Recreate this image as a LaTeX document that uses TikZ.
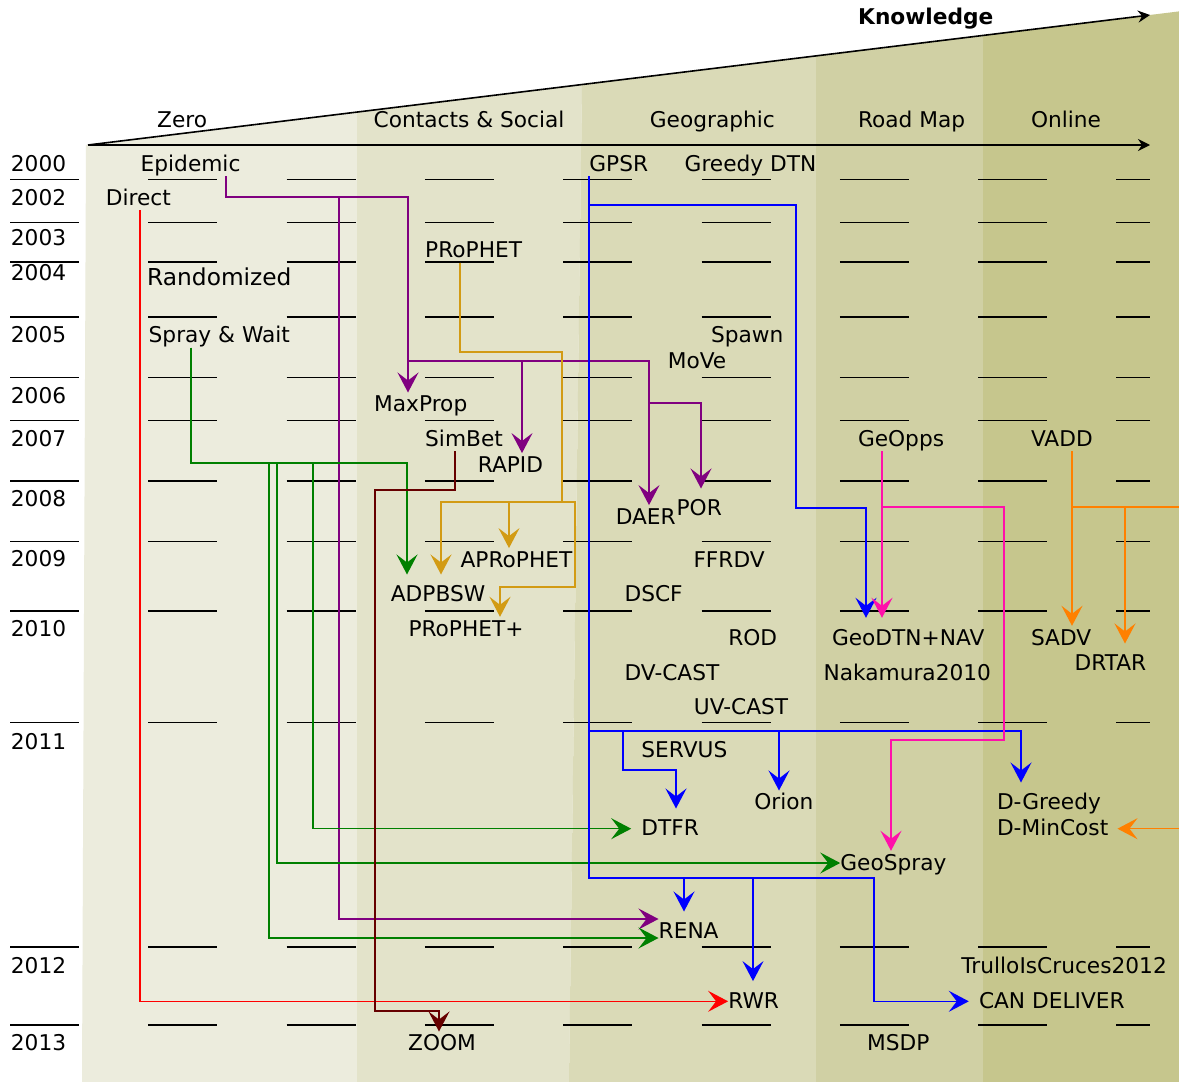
\documentclass[tikz,border=0pt]{standalone}
\usepackage{fontspec}
\setmainfont{DejaVu Sans}
\usepackage{xcolor}
\usepackage{tikz}
\usetikzlibrary{arrows.meta}

\definecolor{zonea}{RGB}{236,236,221}
\definecolor{zoneb}{RGB}{227,227,202}
\definecolor{zonec}{RGB}{218,218,183}
\definecolor{zoned}{RGB}{208,208,164}
\definecolor{zonee}{RGB}{198,198,141}
\definecolor{purp}{RGB}{128,0,128}
\definecolor{gold}{RGB}{210,155,20}
\definecolor{grn}{RGB}{0,128,0}
\definecolor{rd}{RGB}{255,0,0}
\definecolor{maroon}{RGB}{102,0,0}
\definecolor{blu}{RGB}{0,0,255}
\definecolor{pnk}{RGB}{255,16,170}
\definecolor{orng}{RGB}{255,128,0}

\begin{document}
\begin{tikzpicture}[
  x=1pt, y=-1pt,
  lbl/.style={anchor=base west, inner sep=0pt, text height=19pt,
    text depth=5pt, font=\fontsize{21.7}{26}\selectfont},
  yearline/.style={line width=1.6pt, dash pattern=on 69pt off 69.3pt},
  axisarr/.style={line width=1.6pt, -{Stealth[length=12pt, width=12pt, inset=4pt]}},
  wire/.style={line width=1.5pt},
  conn/.style={wire, -{Stealth[length=20pt, width=21pt, inset=8pt]}}
]
\useasboundingbox (0,0) rectangle (1179,1082);
\fill[white] (0,0) rectangle (1179,1082);
\fill[zonea] (86,145) -- (357,112.1) -- (357,1082) -- (82,1082) -- cycle;
\fill[zoneb] (357,112.1) -- (582,84.5) -- (569,1082) -- (357,1082) -- cycle;
\fill[zonec] (582,84.5) -- (816,55.9) -- (816,1082) -- (569,1082) -- cycle;
\fill[zoned] (816,55.9) -- (983,35.4) -- (983,1082) -- (816,1082) -- cycle;
\fill[zonee] (983,35.4) -- (1179,11.4) -- (1179,1082) -- (983,1082) -- cycle;

\draw[axisarr] (88,145) -- (1150,145);
\draw[axisarr] (88,145) -- (1150,15);

\node[lbl, font=\fontsize{21.7}{26}\selectfont\bfseries] (know) at (858,24) {Knowledge};
\node[lbl] (zero) at (157,127.7) {Zero};
\node[lbl] (social) at (373.5,127.7) {Contacts \& Social};
\node[lbl] (geo) at (649.7,127.7) {Geographic};
\node[lbl] (roadmap) at (857.8,127.7) {Road Map};
\node[lbl] (online) at (1030.8,127.7) {Online};

\draw[yearline] (10,179.3) -- (1150,179.3);
\draw[yearline] (10,222.3) -- (1150,222.3);
\draw[yearline] (10,262) -- (1150,262);
\draw[yearline] (10,316.7) -- (1150,316.7);
\draw[yearline] (10,377.3) -- (1150,377.3);
\draw[yearline] (10,420.3) -- (1150,420.3);
\draw[yearline] (10,481) -- (1150,481);
\draw[yearline] (10,541.3) -- (1150,541.3);
\draw[yearline] (10,610.7) -- (1150,610.7);
\draw[yearline] (10,722.3) -- (1150,722.3);
\draw[yearline] (10,947) -- (1150,947);
\draw[yearline] (10,1025) -- (1150,1025);

\node[lbl] (y2000) at (10.7,171) {2000};
\node[lbl] (y2002) at (10.7,205) {2002};
\node[lbl] (y2003) at (10.7,245.6) {2003};
\node[lbl] (y2004) at (10.7,280) {2004};
\node[lbl] (y2005) at (10.7,342.7) {2005};
\node[lbl] (y2006) at (10.7,403.3) {2006};
\node[lbl] (y2007) at (10.7,446) {2007};
\node[lbl] (y2008) at (10.7,506.7) {2008};
\node[lbl] (y2009) at (10.7,566.7) {2009};
\node[lbl] (y2010) at (10.7,636) {2010};
\node[lbl] (y2011) at (10.7,749.3) {2011};
\node[lbl] (y2012) at (10.7,973.3) {2012};
\node[lbl] (y2013) at (10.7,1050.7) {2013};

\node[lbl] (epi) at (140.5,171) {Epidemic};
\node[lbl] (direct) at (105.6,205) {Direct};
\node[lbl] (gpsr) at (589.2,171) {GPSR};
\node[lbl] (greedy) at (684.5,171) {Greedy DTN};
\node[lbl] (prophet) at (425,257.3) {PRoPHET};
\node[lbl, font=\fontsize{23.3}{28}\selectfont] (random) at (147,285) {Randomized};
\node[lbl] (spray) at (148.5,342.7) {Spray \& Wait};
\node[lbl] (spawn) at (710.9,342.7) {Spawn};
\node[lbl] (move) at (667.6,368.3) {MoVe};
\node[lbl] (maxprop) at (374,411.7) {MaxProp};
\node[lbl] (simbet) at (425,446) {SimBet};
\node[lbl] (geopps) at (857.8,446) {GeOpps};
\node[lbl] (vadd) at (1030.8,446) {VADD};
\node[lbl] (rapid) at (477.6,472.3) {RAPID};
\node[lbl] (por) at (676.4,515.7) {POR};
\node[lbl] (daer) at (615.6,524.3) {DAER};
\node[lbl] (aprophet) at (460.4,567.3) {APRoPHET};
\node[lbl] (ffrdv) at (693.3,567.3) {FFRDV};
\node[lbl] (adpbsw) at (390.7,601.7) {ADPBSW};
\node[lbl] (dscf) at (624.4,601.7) {DSCF};
\node[lbl] (prophetplus) at (408.3,636) {PRoPHET+};
\node[lbl] (rod) at (728.1,645) {ROD};
\node[lbl] (geodtn) at (831.8,645) {GeoDTN+NAV};
\node[lbl] (sadv) at (1030.8,645) {SADV};
\node[lbl] (drtar) at (1074.4,670.7) {DRTAR};
\node[lbl] (dvcast) at (624.4,680) {DV-CAST};
\node[lbl] (nakamura) at (823.4,680) {Nakamura2010};
\node[lbl] (uvcast) at (693.7,714.3) {UV-CAST};
\node[lbl] (servus) at (641.2,757.3) {SERVUS};
\node[lbl] (orion) at (754.1,809.7) {Orion};
\node[lbl] (dgreedy) at (996.8,809.7) {D-Greedy};
\node[lbl] (dtfr) at (641.2,835.7) {DTFR};
\node[lbl] (dmincost) at (996.8,835.7) {D-MinCost};
\node[lbl] (geospray) at (840.2,870) {GeoSpray};
\node[lbl] (rena) at (658.5,938.7) {RENA};
\node[lbl] (trullo) at (961.2,973.3) {TrulloIsCruces2012};
\node[lbl] (rwr) at (728.1,1008.3) {RWR};
\node[lbl] (candeliver) at (978.8,1008.3) {CAN DELIVER};
\node[lbl] (zoom) at (408,1050.7) {ZOOM};
\node[lbl] (msdp) at (867,1050.7) {MSDP};

\coordinate (rimhi) at (1179,507);
\coordinate (rimlo) at (1179,828.7);

\draw[conn, purp] (epi.south -| 226,0) |- (339,197) |- ([yshift=12.7pt]rena.west);
\draw[conn, purp] (epi.south -| 226,0) |- (408,197) -- (maxprop.north -| 408,0);
\draw[conn, purp] (epi.south -| 226,0) |- (408,197) |- (522,361) -- (rapid.north -| 522,0);
\draw[conn, purp] (epi.south -| 226,0) |- (408,197) |- (649,361) -- (daer.north -| 649,0);
\draw[conn, purp, shorten >=8pt] (epi.south -| 226,0) |- (408,197) |- (649,361) |- (701,403) -- (por.north -| 701,0);

\draw[conn, gold, shorten >=8pt] (prophet.south -| 460,0) |- (562,352) |- (441,502) -- (adpbsw.north -| 441,0);
\draw[conn, gold] (prophet.south -| 460,0) |- (562,352) |- (509,502) -- (aprophet.north -| 509,0);
\draw[conn, gold] (prophet.south -| 460,0) |- (562,352) |- (575,502) |- (500,587) -- (prophetplus.north -| 500,0);

\draw[conn, grn, shorten >=8pt] (spray.south -| 191,0) |- (407,463) -- (adpbsw.north -| 407,0);
\draw[conn, grn, shorten >=10pt] (spray.south -| 191,0) |- (313,463) |- (dtfr.west);
\draw[conn, grn] (spray.south -| 191,0) |- (277,463) |- (geospray.west);
\draw[conn, grn] (spray.south -| 191,0) |- (269,463) |- ([yshift=-6.3pt]rena.west);

\draw[conn, rd] (direct.south -| 140,0) |- (rwr.west);

\draw[conn, maroon] (simbet.south -| 455,0) |- (375,490) |- (439,1011) -- (zoom.north -| 439,0);

\draw[conn, blu, shorten >=8pt] (gpsr.south -| 589,0) |- (796,205) |- (866,508) -- (geodtn.north -| 866,0);
\draw[conn, blu, shorten >=8pt] (gpsr.south -| 589,0) |- (1021,731) -- (dgreedy.north -| 1021,0);
\draw[conn, blu, shorten >=8pt] (gpsr.south -| 589,0) |- (623,731) |- (676,770) -- (dtfr.north -| 676,0);
\draw[conn, blu] (gpsr.south -| 589,0) |- (779,731) -- (orion.north -| 779,0);
\draw[conn, blu, shorten >=8pt] (gpsr.south -| 589,0) |- (684,878) -- (rena.north -| 684,0);
\draw[conn, blu, shorten >=8pt] (gpsr.south -| 589,0) |- (753,878) -- (rwr.north -| 753,0);
\draw[conn, blu, shorten >=10pt] (gpsr.south -| 589,0) |- (874,878) |- (candeliver.west);

\draw[conn, pnk, shorten >=8pt] (geopps.south -| 882,0) -- (geodtn.north -| 882,0);
\draw[conn, pnk] (geopps.south -| 882,0) |- (1004,507) |- (891,740) -- (geospray.north -| 891,0);

\draw[conn, orng] (vadd.south -| 1072,0) -- (sadv.north -| 1072,0);
\draw[conn, orng, shorten >=8pt] (vadd.south -| 1072,0) |- (1125,507) -- (drtar.north -| 1125,0);
\draw[wire, orng] (vadd.south -| 1072,0) |- (rimhi);
\draw[conn, orng, shorten >=9pt] (rimlo) -- (dmincost.east);
\end{tikzpicture}
\end{document}
